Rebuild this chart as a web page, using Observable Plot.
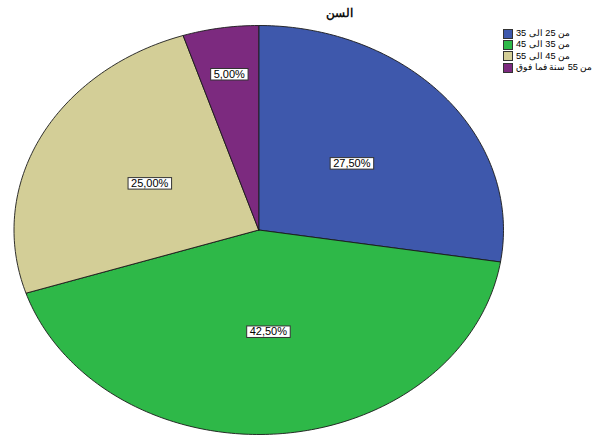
<!DOCTYPE html>
<html><head><meta charset="utf-8">
<script src="https://cdn.jsdelivr.net/npm/d3@7"></script>
<script src="https://cdn.jsdelivr.net/npm/@observablehq/plot@0.6"></script>
<style>
body{margin:0;background:#fff;}
#wrap{position:relative;width:595px;height:435px;font-family:"Liberation Sans",Arial,sans-serif;}
#legend{position:absolute;left:503px;top:28px;font-size:9.2px;line-height:11.3px;color:#000;white-space:nowrap;}
#legend .row{display:flex;align-items:center;height:11.3px;}
#legend .sw{width:8px;height:8px;border:1px solid #333;margin-right:3px;flex:none;}
</style></head><body><div id="wrap"></div>
<script>
const title = "السن";
const categories = ["من 25 الى 35", "من 35 الى 45", "من 45 الى 55", "من 55 سنة فما فوق"];
const percents = [27.5, 42.5, 25.0, 5.0];
const colors = ["#3E58AC", "#2EB848", "#D3CE97", "#7C2A7F"];

const fmtPct = v => d3.format(".2f")(v).replace(".", ",") + "%";

const arcs = d3.pie().sort(null).value(d => d)(percents);
const slices = arcs.map((a, i) => ({cat: categories[i], pct: percents[i], start: a.startAngle, end: a.endAngle}));

// outline points of each slice on the unit circle (x = sin a, y = cos a)
const outline = slices.flatMap(s => {
  const n = Math.max(2, Math.ceil((s.end - s.start) / (Math.PI / 180)));
  const pts = [{cat: s.cat, x: 0, y: 0}];
  for (let k = 0; k <= n; k++) {
    const a = s.start + (s.end - s.start) * k / n;
    pts.push({cat: s.cat, x: Math.sin(a), y: Math.cos(a)});
  }
  pts.push({cat: s.cat, x: 0, y: 0});
  return pts;
});

const labels = slices.map(s => {
  const m = (s.start + s.end) / 2;
  const f = s.pct >= 10 ? 0.5 : 0.77;
  return {x: Math.sin(m) * f, y: Math.cos(m) * f, text: fmtPct(s.pct)};
});

const plot = Plot.plot({
  width: 595, height: 435,
  margin: 0,
  style: {fontFamily: "'Liberation Sans', Arial, sans-serif", background: "#fff"},
  x: {domain: [-1, 1], range: [13.5, 503], axis: null},
  y: {domain: [-1, 1], range: [434, 25], axis: null},
  color: {domain: categories, range: colors},
  marks: [
    Plot.line(outline, {x: "x", y: "y", z: "cat", fill: "cat", stroke: "#1a1a1a", strokeWidth: 0.9, strokeLinejoin: "round"}),
    Plot.text(labels, {x: "x", y: "y", text: "text", fontSize: 11, fill: "#000"}),
    Plot.text([title], {frameAnchor: "top", dx: 41, dy: 8, lineAnchor: "top", fontSize: 12, fontWeight: "bold", fill: "#111"})
  ]
});

const wrap = document.getElementById("wrap");
wrap.append(plot);

// white label boxes behind percentage texts
plot.querySelectorAll("text").forEach(t => {
  if (!/%$/.test(t.textContent)) return;
  const b = t.getBBox();
  const r = document.createElementNS("http://www.w3.org/2000/svg", "rect");
  r.setAttribute("x", b.x - 3);
  r.setAttribute("y", b.y + 0.5);
  r.setAttribute("width", b.width + 6);
  r.setAttribute("height", b.height - 0.5);
  r.setAttribute("fill", "#fff");
  r.setAttribute("stroke", "#333");
  r.setAttribute("stroke-width", 1);
  if (t.getAttribute("transform")) r.setAttribute("transform", t.getAttribute("transform"));
  t.parentNode.insertBefore(r, t);
});

// legend
const color = plot.scale("color");
const legend = document.createElement("div");
legend.id = "legend";
categories.forEach((c, i) => {
  const row = document.createElement("div");
  row.className = "row";
  const sw = document.createElement("span");
  sw.className = "sw";
  sw.style.background = color.range[i];
  const tx = document.createElement("span");
  tx.textContent = c;
  row.append(sw, tx);
  legend.append(row);
});
wrap.append(legend);
</script>
</body></html>
